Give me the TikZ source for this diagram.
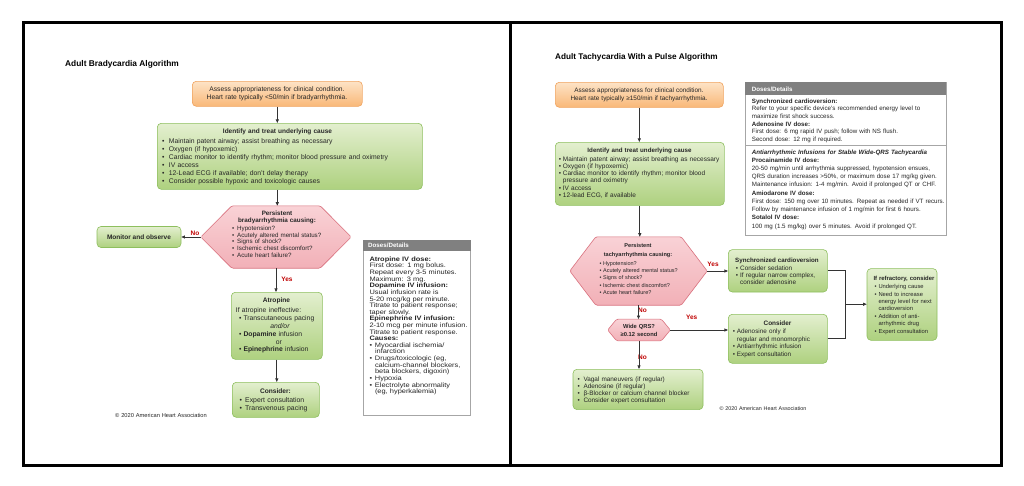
\documentclass[tikz,border=0pt]{standalone}
\usepackage{fontspec}
\setmainfont{Liberation Sans}
\newfontfamily\widefont[FakeStretch=1.16]{Liberation Sans}
\usetikzlibrary{arrows.meta,calc}
\definecolor{orT}{HTML}{FDE3C6}
\definecolor{orBt}{HTML}{F9B878}
\definecolor{orB}{HTML}{F0A35E}
\definecolor{grT}{HTML}{E3EFCF}
\definecolor{grBt}{HTML}{AED17F}
\definecolor{grB}{HTML}{8EBF5E}
\definecolor{pkT}{HTML}{F9D2D6}
\definecolor{pkBt}{HTML}{F2B0B7}
\definecolor{pkB}{HTML}{D9717E}
\definecolor{hdr}{HTML}{808080}
\definecolor{dbd}{HTML}{A6A6A6}
\definecolor{labred}{HTML}{C00000}
\definecolor{arrc}{HTML}{333333}
\definecolor{textc}{HTML}{262626}
\newcommand\fs[2]{\fontsize{#1}{#2}\selectfont}
\newlength\bw
\setlength\bw{4pt}
\newcommand\bi{\makebox[\bw][l]{•}}
\newcommand\ci{\hspace*{\bw}}
\lineskiplimit=-10pt
\begin{document}
\begin{tikzpicture}[x=1pt,y=-1pt,
  box/.style={rounded corners=4pt, line width=0.6pt, inner sep=0},
  obox/.style={box, draw=orB, top color=orT, bottom color=orBt},
  gbox/.style={box, draw=grB, top color=grT, bottom color=grBt},
  dbox/.style={draw=dbd, line width=0.6pt, fill=white, inner sep=0},
  hexbox/.style={inner sep=0},
  hexs/.style={draw=pkB, line width=0.6pt, top color=pkT, bottom color=pkBt, rounded corners=1.5pt},
  t/.style={inner sep=0, text width=260pt, align=left, anchor=base west, text=textc, execute at begin node={\lineskiplimit=-10pt\lineskip=0pt}},
  tc/.style={inner sep=0, text width=260pt, align=center, anchor=base, text=textc, execute at begin node={\lineskiplimit=-10pt\lineskip=0pt}},
  ttl/.style={inner sep=0, anchor=base west, text=black},
  lab/.style={inner sep=0, anchor=base, text=labred, font=\bfseries\fs{6.5}{8}},
  arr/.style={draw=arrc, line width=0.7pt, -{Triangle[length=3.6pt,width=3pt]}},
  ln/.style={draw=arrc, line width=0.7pt},
  frame/.style={draw=black, line width=3pt}
]
\useasboundingbox (0,0) rectangle (1024,485);
\fill[white] (0,0) rectangle (1024,485);
\draw[frame] (23,22) rectangle (1001,465);
\draw[frame] (510,22) -- (510,465);

% ================= LEFT PANEL =================
\node[ttl, font=\bfseries\fs{8.35}{10}] (tl) at (65,66) {Adult Bradycardia Algorithm};

\node[obox, minimum width=170pt, minimum height=25pt, anchor=north west] (o1) at (192,81) {};
\node[tc, font=\fs{6.7}{8.4}] (o1t) at (277,91) {Assess appropriateness for clinical condition.\\Heart rate typically <50/min if bradyarrhythmia.};

\node[gbox, minimum width=265pt, minimum height=66pt, anchor=north west] (g1) at (157,123) {};
\draw[arr] (o1.south) -- (o1.south |- g1.north);
\node[tc, font=\bfseries\fs{6.5}{8}] (g1h) at (277.5,133.7) {Identify and treat underlying cause};
\node[t, font=\fs{6.8}{7.9}\setlength\bw{6.7pt}] (g1t) at (162,143.7) {\bi Maintain patent airway; assist breathing as necessary\\\bi Oxygen (if hypoxemic)\\\bi Cardiac monitor to identify rhythm; monitor blood pressure and oximetry\\\bi IV access\\\bi 12-Lead ECG if available; don’t delay therapy\\\bi Consider possible hypoxic and toxicologic causes};

\node[hexbox, minimum width=150pt, minimum height=62pt] (hx1) at (276,237) {};
\draw[arr] (g1.south -| o1.south) -- (o1.south |- hx1.north);
\draw[hexs] (hx1.west) -- ($(hx1.north west)+(31,0)$) -- ($(hx1.north east)+(-31,0)$) -- (hx1.east) -- ($(hx1.south east)+(-31,0)$) -- ($(hx1.south west)+(31,0)$) -- cycle;
\node[tc, font=\bfseries\fs{6.3}{7}] (hx1h) at (277,215) {Persistent\\bradyarrhythmia causing:};
\node[t, font=\fs{6.2}{6.7}\setlength\bw{5pt}] (hx1t) at (232,230.3) {\bi Hypotension?\\\bi Acutely altered mental status?\\\bi Signs of shock?\\\bi Ischemic chest discomfort?\\\bi Acute heart failure?};

\node[gbox, minimum width=84pt, minimum height=21pt, font=\bfseries\fs{6.5}{8}, text=textc] (mo) at (139,237) {Monitor and observe};
\node[lab] (no1) at (195,235.5) {No};
\draw[arr] (hx1.west) -- (mo.east);

\node[gbox, minimum width=91pt, minimum height=67pt, anchor=north west] (a1) at (231,292) {};
\node[lab] (yes1) at (287,281) {Yes};
\draw[arr] (hx1.south) -- (hx1.south |- a1.north);
\node[tc, font=\bfseries\fs{6.6}{8}] (a1h) at (276.5,302.7) {Atropine};
\node[t, font=\fs{6.8}{7.85}\setlength\bw{4.3pt}] (a1t) at (235.7,312.7) {If atropine ineffective:\\\hspace*{3.3pt}\bi Transcutaneous pacing\\\makebox[88pt][c]{\itshape and/or}\\\hspace*{3.3pt}\bi \textbf{Dopamine} infusion\\\makebox[86pt][c]{or}\\\hspace*{3.3pt}\bi \textbf{Epinephrine} infusion};

\node[gbox, minimum width=87pt, minimum height=35pt, anchor=north west] (c1) at (232,382) {};
\draw[arr] (a1.south) -- (a1.south |- c1.north);
\node[tc, font=\bfseries\fs{6.6}{8}] (c1h) at (275.5,393) {Consider:};
\node[t, font=\fs{6.9}{7.3}\setlength\bw{5.7pt}] (c1t) at (239.3,402.7) {\bi Expert consultation\\\bi Transvenous pacing};

\node[t, font=\fs{5.7}{7}] (cpl) at (115,417) {© 2020 American Heart Association};

\node[dbox, minimum width=107pt, minimum height=175pt, anchor=north west] (d1) at (363,240) {};
\fill[hdr] (d1.north west) rectangle ($(d1.north east)+(0,11)$);
\node[t, font=\bfseries\fs{6.2}{7}, text=white] (d1h) at (368,247.7) {Doses/Details};
\node[t, font=\widefont\fs{6.4}{6.62}\setlength\bw{5.5pt}] (d1t) at (369.3,261.3) {\textbf{Atropine IV dose:}\\First dose: 1 mg bolus.\\Repeat every 3-5 minutes.\\Maximum: 3 mg.\\\textbf{Dopamine IV infusion:}\\Usual infusion rate is\\5-20 mcg/kg per minute.\\Titrate to patient response;\\taper slowly.\\\textbf{Epinephrine IV infusion:}\\2-10 mcg per minute infusion.\\Titrate to patient response.\\\textbf{Causes:}\\\bi Myocardial ischemia/\\\ci infarction\\\bi Drugs/toxicologic (eg,\\\ci calcium-channel blockers,\\\ci beta blockers, digoxin)\\\bi Hypoxia\\\bi Electrolyte abnormality\\\ci (eg, hyperkalemia)};

% ================= RIGHT PANEL =================
\node[ttl, font=\bfseries\fs{8.2}{10}] (tr) at (555,59.5) {Adult Tachycardia With a Pulse Algorithm};

\node[obox, minimum width=168pt, minimum height=25pt, anchor=north west] (o2) at (555,82) {};
\node[tc, font=\fs{6.4}{7.6}] (o2t) at (639,92.7) {Assess appropriateness for clinical condition.\\Heart rate typically ≥150/min if tachyarrhythmia.};

\node[gbox, minimum width=169pt, minimum height=63pt, anchor=north west] (g2) at (555,142) {};
\draw[arr] (o2.south) -- (o2.south |- g2.north);
\node[tc, font=\bfseries\fs{6.2}{8}] (g2h) at (639.5,152) {Identify and treat underlying cause};
\node[t, font=\fs{6.5}{7.33}\setlength\bw{4pt}] (g2t) at (558.7,161) {\bi Maintain patent airway; assist breathing as necessary\\\bi Oxygen (if hypoxemic)\\\bi Cardiac monitor to identify rhythm; monitor blood\\\ci pressure and oximetry\\\bi IV access\\\bi 12-lead ECG, if available};

\node[hexbox, minimum width=137pt, minimum height=68pt] (hx2) at (638.5,271) {};
\draw[hexs] (hx2.west) -- ($(hx2.north west)+(26,0)$) -- ($(hx2.north east)+(-26,0)$) -- (hx2.east) -- ($(hx2.south east)+(-26,0)$) -- ($(hx2.south west)+(26,0)$) -- cycle;
\draw[arr] (g2.south) -- (g2.south |- hx2.north);
\node[tc, font=\bfseries\fs{5.6}{9}] (hx2h) at (638,247) {Persistent\\tachyarrhythmia causing:};
\node[t, font=\fs{5.5}{7.25}\setlength\bw{3.6pt}] (hx2t) at (599.3,265.3) {\bi Hypotension?\\\bi Acutely altered mental status?\\\bi Signs of shock?\\\bi Ischemic chest discomfort?\\\bi Acute heart failure?};

\node[gbox, minimum width=99pt, minimum height=42.4pt, anchor=north west] (sc) at (728,249.3) {};
\node[lab] (yes2) at (713,266) {Yes};
\draw[arr] (hx2.east) -- (hx2.east -| sc.west);
\node[t, font=\bfseries\fs{6.2}{8}] (sch) at (735,262) {Synchronized cardioversion};
\node[t, font=\fs{6.4}{7.2}\setlength\bw{4.3pt}] (sct) at (735.7,270.3) {\bi Consider sedation\\\bi If regular narrow complex,\\\ci consider adenosine};

\node[hexbox, minimum width=62.3pt, minimum height=21.4pt] (w) at (639,330) {};
\draw[hexs] (w.west) -- ($(w.north west)+(9,0)$) -- ($(w.north east)+(-9,0)$) -- (w.east) -- ($(w.south east)+(-9,0)$) -- ($(w.south west)+(9,0)$) -- cycle;
\node[lab] (no2) at (642.5,312.7) {No};
\draw[arr] (hx2.south) -- (hx2.south |- w.north);
\node[tc, font=\bfseries\fs{5.8}{8.3}] (wt) at (639,328) {Wide QRS?\\≥0.12 second};

\node[gbox, minimum width=99pt, minimum height=49pt, anchor=north west] (cr) at (728,314) {};
\node[lab] (yes3) at (691.7,319.5) {Yes};
\draw[arr] (w.east) -- (w.east -| cr.west);
\node[tc, font=\bfseries\fs{6.4}{8}] (crh) at (777.5,325.3) {Consider};
\node[t, font=\fs{6.35}{7.55}\setlength\bw{4pt}] (crt) at (732.7,333.7) {\bi Adenosine only if\\\ci regular and monomorphic\\\bi Antiarrhythmic infusion\\\bi Expert consultation};

\node[gbox, minimum width=70pt, minimum height=71.7pt, anchor=north west] (rf) at (866.7,268.3) {};
\coordinate (jn) at (845,304.2);
\draw[ln] (sc.east) -| (jn);
\draw[ln] (cr.east) -| (jn);
\draw[arr] (jn) -- (jn -| rf.west);
\node[t, font=\bfseries\fs{5.9}{8}] (rfh) at (873.3,280.3) {If refractory, consider};
\node[t, font=\fs{5.8}{7.4}\setlength\bw{4pt}] (rft) at (874.3,288.7) {\bi Underlying cause\\\bi Need to increase\\\ci energy level for next\\\ci cardioversion\\\bi Addition of anti-\\\ci arrhythmic drug\\\bi Expert consultation};

\node[gbox, minimum width=130pt, minimum height=40.3pt, anchor=north west] (vg) at (572.7,369) {};
\node[lab] (no3) at (642.5,359) {No};
\draw[arr] (w.south) -- (w.south |- vg.north);
\node[t, font=\fs{6.4}{7.23}\setlength\bw{6pt}] (vgt) at (577.3,381) {\bi Vagal maneuvers (if regular)\\\bi Adenosine (if regular)\\\bi β-Blocker or calcium channel blocker\\\bi Consider expert consultation};

\node[t, font=\fs{5.4}{7}] (cpr) at (719.3,410.3) {© 2020 American Heart Association};

\node[dbox, minimum width=200.7pt, minimum height=153.3pt, anchor=north west] (d2) at (745,81.7) {};
\fill[hdr] (d2.north west) rectangle ($(d2.north east)+(0,13.3)$);
\draw[draw=dbd, line width=0.6pt] ($(d2.north west)+(0,64)$) -- ($(d2.north east)+(0,64)$);
\node[t, font=\bfseries\fs{6.2}{7}, text=white] (d2h) at (751.7,91) {Doses/Details};
\node[t, font=\fs{6.2}{7.6}] (d2a) at (751.7,103) {\textbf{Synchronized cardioversion:}\\Refer to your specific device’s recommended energy level to\\maximize first shock success.};
\node[t, font=\fs{6.2}{7.6}] (d2b) at (751.7,126) {\textbf{Adenosine IV dose:}\\First dose: 6 mg rapid IV push; follow with NS flush.\\Second dose: 12 mg if required.};
\node[t, font=\bfseries\itshape\fs{6.2}{7.6}] (d2c) at (751.7,154.7) {Antiarrhythmic Infusions for Stable Wide-QRS Tachycardia};
\node[t, font=\fs{6.2}{7.9}] (d2d) at (751.7,162.3) {\textbf{Procainamide IV dose:}\\20-50 mg/min until arrhythmia suppressed, hypotension ensues,\\QRS duration increases >50\%, or maximum dose 17 mg/kg given.\\Maintenance infusion: 1-4 mg/min. Avoid if prolonged QT or CHF.};
\node[t, font=\fs{6.2}{8.2}] (d2e) at (751.7,195.3) {\textbf{Amiodarone IV dose:}\\First dose: 150 mg over 10 minutes. Repeat as needed if VT recurs.\\Follow by maintenance infusion of 1 mg/min for first 6 hours.};
\node[t, font=\fs{6.2}{9}] (d2f) at (751.7,219.7) {\textbf{Sotalol IV dose:}\\100 mg (1.5 mg/kg) over 5 minutes. Avoid if prolonged QT.};
\end{tikzpicture}
\end{document}
